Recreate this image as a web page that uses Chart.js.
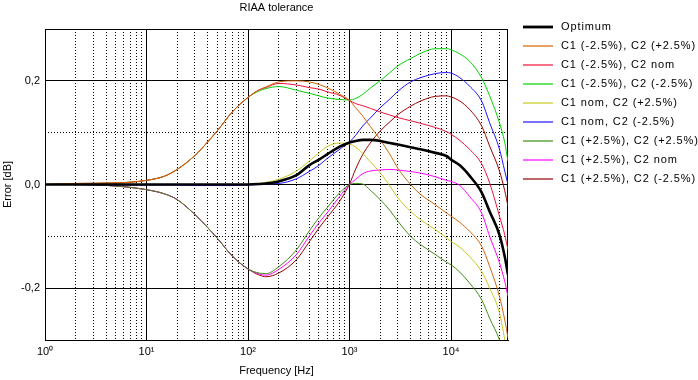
<!DOCTYPE html>
<html lang="en">
<head>
  <meta charset="UTF-8" />
  <title>RIAA tolerance</title>
  <script src="https://cdn.jsdelivr.net/npm/chart.js"></script>
  <style>
    body { margin: 0; background: #fff; }
  </style>
</head>
<body>
  <canvas id="riaaChart" width="698" height="380"></canvas>

  <script>
    // frequencies in Hz
    const freqs = [1, 2, 5, 10, 15, 20, 30, 40, 50, 70,
      100, 130, 150, 200, 300, 400, 500, 600, 800, 1000,
      1150, 1350, 1600, 2000, 2500, 3000, 4000, 5000, 7000, 9000,
      10000, 12200, 15200, 20000, 24000, 30000, 33800, 36400];

    // error in dB for each curve
    const optimum = [0, 0, 0, 0, 0, 0, 0, 0, 0, 0,
      0, 0.001, 0.002, 0.006, 0.018, 0.037, 0.048, 0.058, 0.073, 0.081,
      0.084, 0.086, 0.086, 0.084, 0.080, 0.077, 0.072, 0.068, 0.061, 0.055,
      0.048, 0.037, 0.017, -0.015, -0.052, -0.097, -0.139, -0.174];
    const c1mC2p = [0, 0.002, 0.003, 0.008, 0.016, 0.029, 0.056, 0.082, 0.104, 0.140,
      0.168, 0.183, 0.188, 0.198, 0.200, 0.198, 0.193, 0.187, 0.174, 0.162,
      0.148, 0.132, 0.112, 0.087, 0.058, 0.031, 0.000, -0.019, -0.039, -0.055,
      -0.061, -0.073, -0.090, -0.119, -0.158, -0.216, -0.261, -0.296];
    const c1mC2n = [0, 0.002, 0.003, 0.008, 0.016, 0.029, 0.056, 0.082, 0.104, 0.140,
      0.168, 0.183, 0.187, 0.195, 0.192, 0.187, 0.184, 0.179, 0.172, 0.162,
      0.156, 0.152, 0.147, 0.140, 0.134, 0.129, 0.123, 0.118, 0.110, 0.102,
      0.097, 0.085, 0.068, 0.040, 0.003, -0.061, -0.097, -0.126];
    const c1mC2m = [0, 0.002, 0.003, 0.008, 0.016, 0.029, 0.056, 0.082, 0.104, 0.140,
      0.168, 0.181, 0.185, 0.189, 0.182, 0.176, 0.171, 0.167, 0.164, 0.163,
      0.166, 0.174, 0.186, 0.200, 0.216, 0.229, 0.243, 0.253, 0.262, 0.262,
      0.260, 0.252, 0.238, 0.206, 0.171, 0.119, 0.081, 0.045];
    const c1nC2p = [0, 0, 0, 0, 0, 0, 0, 0, 0, 0,
      0, 0.002, 0.004, 0.010, 0.026, 0.045, 0.061, 0.073, 0.080, 0.078,
      0.072, 0.060, 0.044, 0.023, -0.003, -0.026, -0.052, -0.068, -0.087, -0.103,
      -0.110, -0.121, -0.139, -0.168, -0.200, -0.248, -0.300, -0.340];
    const c1nC2m = [0, 0, -0.001, -0.001, -0.001, -0.001, -0.002, -0.002, -0.002, -0.002,
      -0.001, 0, 0.001, 0.002, 0.011, 0.025, 0.037, 0.050, 0.068, 0.082,
      0.095, 0.113, 0.128, 0.148, 0.165, 0.180, 0.198, 0.206, 0.214, 0.216,
      0.215, 0.206, 0.190, 0.161, 0.119, 0.068, 0.026, 0.000];
    const c1pC2p = [0, 0, -0.003, -0.010, -0.018, -0.029, -0.058, -0.083, -0.104, -0.138,
      -0.163, -0.171, -0.172, -0.159, -0.126, -0.090, -0.064, -0.045, -0.016, 0.000,
      0.002, 0.001, -0.011, -0.029, -0.050, -0.071, -0.100, -0.116, -0.135, -0.150,
      -0.155, -0.169, -0.190, -0.222, -0.258, -0.300, -0.335, -0.365];
    const c1pC2n = [0, 0, -0.003, -0.010, -0.018, -0.029, -0.058, -0.083, -0.104, -0.138,
      -0.163, -0.173, -0.175, -0.164, -0.135, -0.100, -0.074, -0.055, -0.023, 0.000,
      0.010, 0.021, 0.026, 0.028, 0.029, 0.028, 0.025, 0.022, 0.015, 0.008,
      0.006, -0.002, -0.023, -0.055, -0.100, -0.151, -0.187, -0.216];
    const c1pC2m = [0, 0, -0.003, -0.010, -0.018, -0.029, -0.058, -0.083, -0.104, -0.138,
      -0.163, -0.175, -0.178, -0.171, -0.145, -0.111, -0.084, -0.064, -0.032, 0.001,
      0.030, 0.058, 0.080, 0.103, 0.121, 0.135, 0.151, 0.161, 0.170, 0.171,
      0.169, 0.161, 0.145, 0.113, 0.074, 0.026, -0.012, -0.042];

    const seriesNames = ["Optimum", "C1 (-2.5%), C2 (+2.5%)", "C1 (-2.5%), C2 nom", "C1 (-2.5%), C2 (-2.5%)",
      "C1 nom, C2 (+2.5%)", "C1 nom, C2 (-2.5%)", "C1 (+2.5%), C2 (+2.5%)", "C1 (+2.5%), C2 nom", "C1 (+2.5%), C2 (-2.5%)"];
    const seriesValues = [optimum, c1mC2p, c1mC2n, c1mC2m, c1nC2p, c1nC2m, c1pC2p, c1pC2n, c1pC2m];
    const seriesColors = ["#000000", "#d26400", "#f0103c", "#00d200", "#c8c81e", "#2010ff", "#3c8c14", "#ff00ff", "#960000"];

    // axis ticks
    const freqTicks = [];
    for (let d = 1; d <= 10000; d *= 10) {
      for (let m = 1; m <= 9; m++) {
        if (d * m <= 30000) freqTicks.push(d * m);
      }
    }
    const decadeLabels = { 1: "10⁰", 10: "10¹", 100: "10²", 1000: "10³", 10000: "10⁴" };
    const errTicks = [-0.3, -0.2, -0.1, 0, 0.1, 0.2, 0.3];
    const errLabels = { "-2": "-0,2", "0": "0,0", "2": "0,2" };

    const isDecade = v => Math.abs(Math.log10(v) - Math.round(Math.log10(v))) < 1e-9;
    const isMajorErr = v => Math.abs(Math.round(v * 10)) % 2 === 0 && Math.abs(v) < 0.25;

    Chart.defaults.font.family = "'Liberation Sans', Arial, sans-serif";
    Chart.defaults.font.size = 11;
    Chart.defaults.color = "#000";

    const framePlugin = {
      id: "frame",
      beforeDatasetsDraw(chart) {
        const { ctx, chartArea: a } = chart;
        ctx.save();
        ctx.strokeStyle = "#000";
        ctx.lineWidth = 1;
        ctx.strokeRect(Math.round(a.left) + 0.5, Math.round(a.top) + 0.5,
          Math.round(a.right - a.left) - 1, Math.round(a.bottom - a.top));
        ctx.restore();
      }
    };

    const sideLegend = {
      id: "sideLegend",
      afterDraw(chart) {
        const { ctx, chartArea } = chart;
        const x0 = chartArea.right + 15;
        ctx.save();
        ctx.font = "11px 'Liberation Sans', Arial, sans-serif";
        ctx.letterSpacing = "0.9px";
        ctx.textBaseline = "middle";
        ctx.fillStyle = "#000";
        chart.data.datasets.forEach((ds, i) => {
          const y = 27 + i * 19;
          ctx.strokeStyle = ds.borderColor;
          ctx.lineWidth = i === 0 ? 2.8 : 1.2;
          ctx.beginPath();
          ctx.moveTo(x0, y);
          ctx.lineTo(x0 + 30, y);
          ctx.stroke();
          ctx.fillText(ds.label, x0 + 38, y);
        });
        ctx.restore();
      }
    };

    const datasets = seriesValues.map((vals, i) => ({
      label: seriesNames[i],
      data: freqs.map((f, k) => ({ x: f, y: vals[k] })),
      borderColor: seriesColors[i],
      borderWidth: i === 0 ? 2.6 : 1,
      pointRadius: 0,
      fill: false,
      cubicInterpolationMode: "monotone"
    }));

    new Chart(document.getElementById("riaaChart"), {
      type: "line",
      data: { datasets },
      plugins: [framePlugin, sideLegend],
      options: {
        responsive: false,
        animation: false,
        devicePixelRatio: 1,
        layout: { padding: { left: 0, right: 190, top: 0, bottom: 0 } },
        plugins: {
          legend: { display: false },
          tooltip: { enabled: false },
          title: {
            display: true,
            text: "RIAA tolerance",
            fullSize: false,
            font: { size: 11, weight: "normal" },
            padding: { top: 1, bottom: 14.8 }
          }
        },
        scales: {
          x: {
            type: "logarithmic",
            position: "bottom",
            min: 1,
            max: 36400,
            afterBuildTicks: scale => { scale.ticks = freqTicks.map(v => ({ value: v })); },
            afterFit: scale => { scale.height = 40; },
            ticks: {
              autoSkip: false,
              maxRotation: 0,
              padding: 5,
              callback: v => decadeLabels[v] || ""
            },
            grid: {
              drawTicks: false,
              color: c => (c.tick && isDecade(c.tick.value)) ? "#000" : "rgba(0,0,0,0)"
            },
            border: { color: "#000" },
            title: { display: true, text: "Frequency [Hz]", padding: { top: 0, bottom: 2 } }
          },
          xMinor: {
            type: "logarithmic",
            position: "bottom",
            min: 1,
            max: 36400,
            afterBuildTicks: scale => { scale.ticks = freqTicks.filter(v => !isDecade(v)).map(v => ({ value: v })); },
            afterFit: scale => { scale.height = 0; },
            ticks: { display: false },
            grid: { drawTicks: false, color: "#000" },
            border: { display: false, dash: [1, 2] }
          },
          y: {
            type: "linear",
            position: "left",
            min: -0.3,
            max: 0.3,
            afterBuildTicks: scale => { scale.ticks = errTicks.map(v => ({ value: v })); },
            afterFit: scale => { scale.width = 45; },
            ticks: {
              padding: 5,
              callback: v => errLabels[String(Math.round(v * 10))] || ""
            },
            grid: {
              drawTicks: false,
              color: c => (c.tick && isMajorErr(c.tick.value)) ? "#000" : "rgba(0,0,0,0)"
            },
            border: { color: "#000" },
            title: { display: true, text: "Error [dB]", padding: { top: 1, bottom: 0 } }
          },
          yMinor: {
            type: "linear",
            position: "left",
            min: -0.3,
            max: 0.3,
            afterBuildTicks: scale => { scale.ticks = [-0.1, 0.1].map(v => ({ value: v })); },
            afterFit: scale => { scale.width = 0; },
            ticks: { display: false },
            grid: { drawTicks: false, color: "#000" },
            border: { display: false, dash: [1, 2] }
          }
        }
      }
    });
  </script>
</body>
</html>
